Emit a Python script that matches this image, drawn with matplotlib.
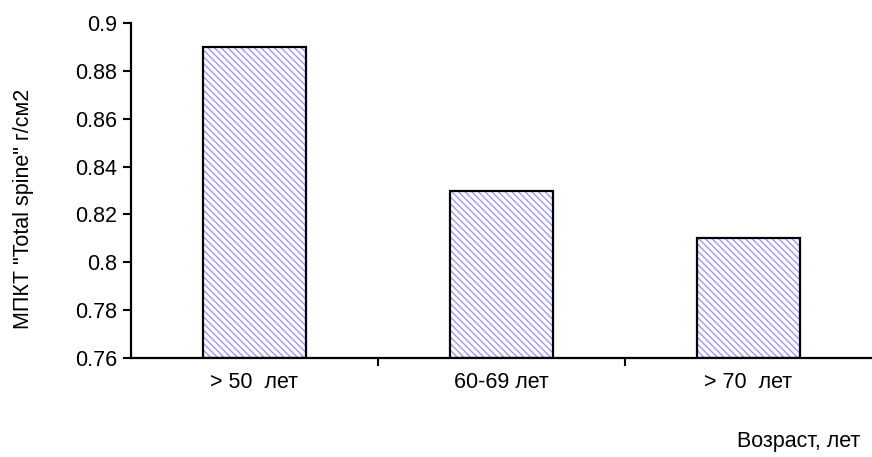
import matplotlib.pyplot as plt

categories = ["> 50  лет", "60-69 лет", "> 70  лет"]
values = [0.89, 0.83, 0.81]
yticks = [0.76, 0.78, 0.80, 0.82, 0.84, 0.86, 0.88, 0.90]
ytick_labels = ["0.76", "0.78", "0.8", "0.82", "0.84", "0.86", "0.88", "0.9"]

plt.rcParams["font.family"] = ["Liberation Sans", "DejaVu Sans"]
fs = 15.5

fig = plt.figure(figsize=(8.72, 4.57), dpi=100)
ax = fig.add_axes([0.150, 0.2166, 0.85, 0.7331])

x = list(range(len(categories)))
base = yticks[0]
heights = [v - base for v in values]
# hatched fill first, black outline on top
ax.bar(x, heights, bottom=base, width=0.415, color="white",
       edgecolor="#9a9aff", hatch="\\\\\\\\\\", linewidth=0)
ax.bar(x, heights, bottom=base, width=0.415, fill=False,
       edgecolor="black", linewidth=1.6)

ax.set_xlim(-0.5, len(categories) - 0.5)
ax.set_ylim(yticks[0], yticks[-1])
ax.set_yticks(yticks)
ax.set_yticklabels(ytick_labels, fontsize=fs)
ax.set_xticks(x)
ax.set_xticklabels(categories, fontsize=fs)
ax.set_xticks([0.5, 1.5], minor=True)
ax.tick_params(axis="x", which="major", length=0, pad=10)
ax.tick_params(axis="x", which="minor", length=6, width=1.5)
ax.tick_params(axis="y", length=6, width=1.5, pad=4)

for side in ["top", "right"]:
    ax.spines[side].set_visible(False)
for side in ["left", "bottom"]:
    ax.spines[side].set_linewidth(1.6)

ax.set_ylabel('МПКТ "Total spine" г/см2', fontsize=fs)
ax.yaxis.set_label_coords(-0.131, 0.445)
fig.text(0.986, 0.035, "Возраст, лет", fontsize=fs, ha="right", va="center")

fig.savefig("out.png", dpi=100)
